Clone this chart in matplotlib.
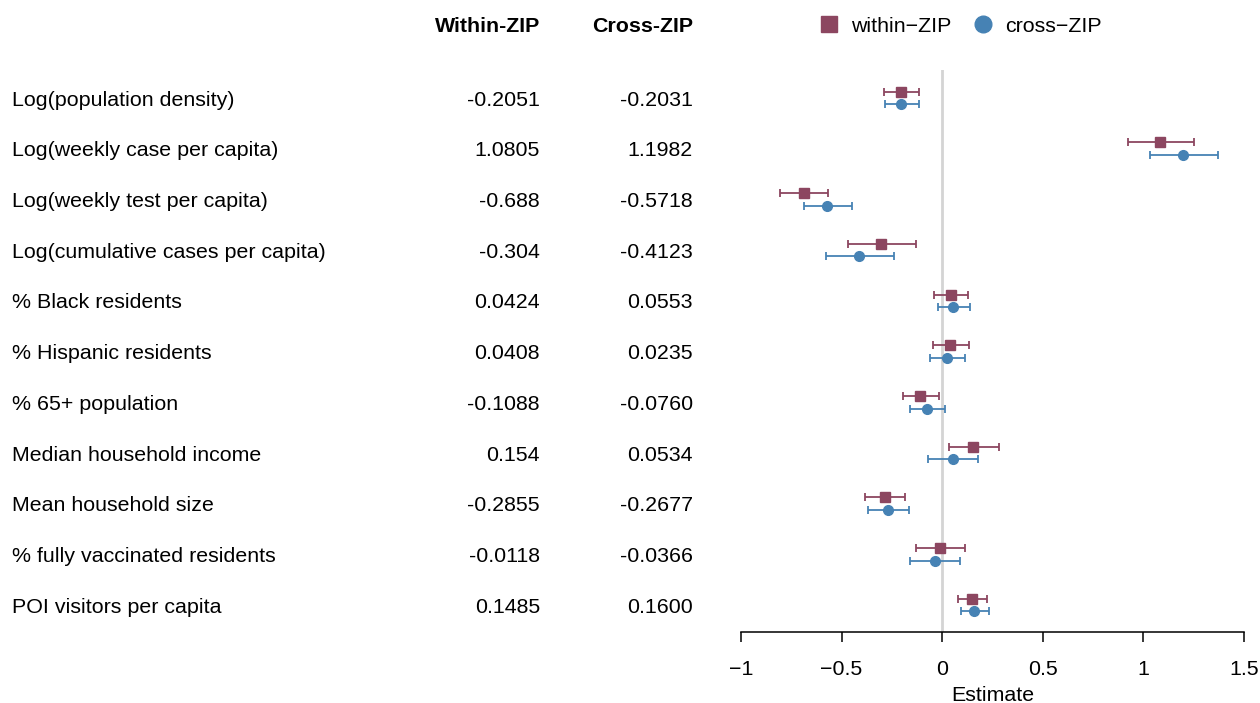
import numpy as np
import matplotlib
matplotlib.use("Agg")
import matplotlib.pyplot as plt
from matplotlib.transforms import blended_transform_factory
from matplotlib.lines import Line2D

plt.rcParams['font.family'] = ['Liberation Sans', 'DejaVu Sans']

# data
labels = ["Log(population density)", "Log(weekly case per capita)",
          "Log(weekly test per capita)", "Log(cumulative cases per capita)",
          "% Black residents", "% Hispanic residents", "% 65+ population",
          "Median household income", "Mean household size",
          "% fully vaccinated residents", "POI visitors per capita"]
within_txt = ["-0.2051", "1.0805", "-0.688", "-0.304", "0.0424", "0.0408",
              "-0.1088", "0.154", "-0.2855", "-0.0118", "0.1485"]
cross_txt = ["-0.2031", "1.1982", "-0.5718", "-0.4123", "0.0553", "0.0235",
             "-0.0760", "0.0534", "-0.2677", "-0.0366", "0.1600"]
within_lo = [-0.288, 0.922, -0.805, -0.468, -0.039, -0.046, -0.196, 0.032, -0.382, -0.132, 0.077]
within_hi = [-0.117, 1.250, -0.566, -0.132, 0.128, 0.133, -0.014, 0.284, -0.185, 0.113, 0.223]
cross_lo = [-0.284, 1.034, -0.688, -0.578, -0.022, -0.059, -0.160, -0.071, -0.369, -0.160, 0.092]
cross_hi = [-0.117, 1.369, -0.450, -0.240, 0.140, 0.112, 0.014, 0.180, -0.163, 0.088, 0.233]

within_est = np.array([float(v) for v in within_txt])
cross_est = np.array([float(v) for v in cross_txt])

red = "#8C4660"
blue = "#4682B4"
fs = 15.4

fig = plt.figure(figsize=(12.6, 7.03), dpi=100)
ax = fig.add_axes([741/1260, 1 - 632/703, 503/1260, (632-70)/703])

rows = np.arange(len(labels))
off = 0.125

ax.axvline(0, color="#d4d4d4", lw=2, zorder=1)

ax.errorbar(within_est, rows - off,
            xerr=[within_est - np.array(within_lo), np.array(within_hi) - within_est],
            fmt="s", color=red, ms=6.5, capsize=3.2, elinewidth=1.3, capthick=1.3, zorder=3)
ax.errorbar(cross_est, rows + off,
            xerr=[cross_est - np.array(cross_lo), np.array(cross_hi) - cross_est],
            fmt="o", color=blue, ms=7, capsize=3.2, elinewidth=1.3, capthick=1.3, zorder=3)

ax.set_xlim(-1, 1.5)
ax.set_ylim(10.53, -0.552)
ax.set_xticks([-1, -0.5, 0, 0.5, 1, 1.5])
ax.set_xticklabels(["\u22121", "\u22120.5", "0", "0.5", "1", "1.5"])
ax.tick_params(axis="x", length=7, width=1.1, pad=13, labelsize=fs)
ax.set_yticks([])
for s in ["top", "right", "left"]:
    ax.spines[s].set_visible(False)
ax.spines["bottom"].set_linewidth(1.1)
ax.spines["bottom"].set_bounds(-1, 1.5)
ax.set_xlabel("Estimate", fontsize=fs, labelpad=5)

# table columns
tr = blended_transform_factory(fig.transFigure, ax.transData)
for i in rows:
    ax.text(12/1260, i + 0.04, labels[i], transform=tr, fontsize=fs, va="center", ha="left", clip_on=False)
    ax.text(540/1260, i + 0.04, within_txt[i], transform=tr, fontsize=fs, va="center", ha="right", clip_on=False)
    ax.text(693/1260, i + 0.04, cross_txt[i], transform=tr, fontsize=fs, va="center", ha="right", clip_on=False)

fig.text(540/1260, 1 - 26/703, "Within-ZIP", fontsize=fs, fontweight="bold", ha="right", va="center")
fig.text(693/1260, 1 - 26/703, "Cross-ZIP", fontsize=fs, fontweight="bold", ha="right", va="center")

handles = [Line2D([], [], marker="s", color=red, ls="none", ms=12),
           Line2D([], [], marker="o", color=blue, ls="none", ms=12)]
fig.legend(handles, ["within\u2212ZIP", "cross\u2212ZIP"], loc="center",
           bbox_to_anchor=(960/1260, 1 - 26/703), ncol=2, frameon=False, fontsize=fs,
           handlelength=1.0, handletextpad=0.5, columnspacing=1.0)

fig.savefig("out.png", dpi=100)
